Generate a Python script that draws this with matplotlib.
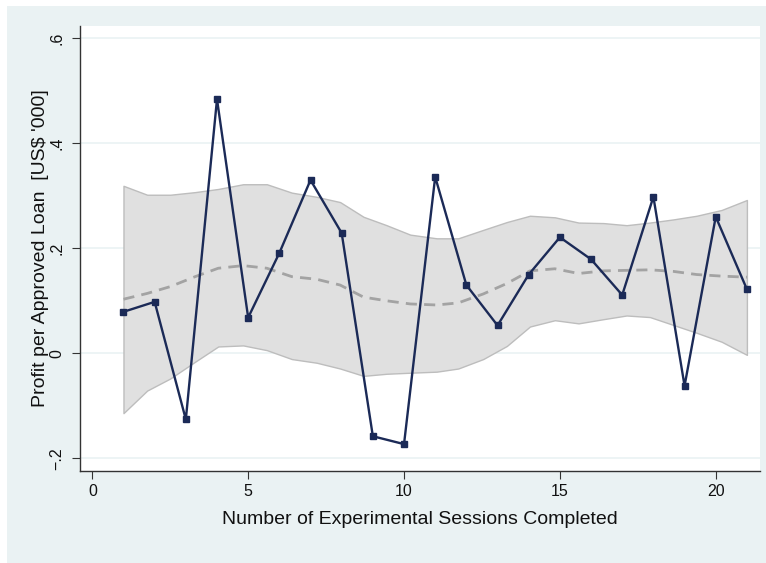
import numpy as np
import matplotlib
matplotlib.use("Agg")
import matplotlib.pyplot as plt
from matplotlib.patches import Rectangle

# observed profit per approved loan, by session
sessions = [1, 2, 3, 4, 5, 6, 7, 8, 9, 10, 11, 12, 13, 14, 15, 16, 17, 18, 19, 20, 21]
profit = [0.079, 0.098, -0.126, 0.484, 0.068, 0.191, 0.330, 0.229, -0.158, -0.173, 0.336,
          0.130, 0.053, 0.150, 0.221, 0.179, 0.111, 0.298, -0.062, 0.260, 0.122]

# smoothed fit with confidence band
fit_x = [1.00, 1.76, 2.50, 3.30, 4.04, 4.84, 5.60, 6.40, 7.20, 7.95, 8.70, 9.44, 10.20, 11.05,
         11.74, 12.54, 13.30, 14.04, 14.84, 15.60, 16.40, 17.14, 17.89, 18.64, 19.39, 20.19, 21.00]
fit_hi = [0.319, 0.302, 0.302, 0.307, 0.313, 0.322, 0.322, 0.306, 0.298, 0.288, 0.260, 0.244,
          0.226, 0.219, 0.219, 0.235, 0.250, 0.262, 0.259, 0.249, 0.248, 0.244, 0.249, 0.255,
          0.262, 0.273, 0.292]
fit_lo = [-0.114, -0.071, -0.048, -0.016, 0.013, 0.015, 0.006, -0.011, -0.018, -0.029, -0.043,
          -0.039, -0.037, -0.035, -0.029, -0.011, 0.014, 0.051, 0.063, 0.057, 0.065, 0.072,
          0.069, 0.054, 0.039, 0.022, -0.003]
fit_mid = [0.103, 0.114, 0.127, 0.146, 0.162, 0.167, 0.162, 0.146, 0.141, 0.130, 0.107, 0.100,
           0.094, 0.092, 0.096, 0.113, 0.133, 0.157, 0.161, 0.152, 0.157, 0.158, 0.159, 0.156,
           0.150, 0.147, 0.145]

xticks = [0, 5, 10, 15, 20]
yticks = [-0.2, 0, 0.2, 0.4, 0.6]
ytick_labels = ["\u2212.2", "0", ".2", ".4", ".6"]

plt.rcParams["font.family"] = ["Liberation Sans", "DejaVu Sans"]

W, H = 766, 563
fig = plt.figure(figsize=(W / 100, H / 100), dpi=100)
fig.patch.set_facecolor("white")
# stata-style outer background
fig.patches.append(Rectangle((7 / W, 0), 1 - 7 / W, 1 - 6 / H, transform=fig.transFigure,
                             facecolor="#eaf2f3", edgecolor="none", zorder=-10))

ax = fig.add_axes([80 / W, (H - 471) / H, (760 - 80) / W, (471 - 26) / H])
ax.set_zorder(1)
ax.set_facecolor("white")

ax.fill_between(fit_x, fit_lo, fit_hi, facecolor="#e0e0e0", edgecolor="#bdbdbd",
                linewidth=1.0, zorder=2)
ax.plot(fit_x, fit_mid, color="#a3a3a3", linewidth=2.0, linestyle=(0, (4, 2.6)), zorder=3)
ax.plot(sessions, profit, color="#1b2a57", linewidth=1.7, marker="s", markersize=5,
        zorder=4)

ax.set_xlim(-0.395, 21.42)
ax.set_ylim(-0.2242, 0.6234)
ax.set_xticks(xticks)
ax.set_yticks(yticks)
ax.set_yticklabels(ytick_labels, rotation=90, va="center")
ax.grid(axis="y", color="#eaf2f3", linewidth=1.2, zorder=1)
ax.set_axisbelow(True)

for s in ["top", "right"]:
    ax.spines[s].set_visible(False)
for s in ["left", "bottom"]:
    ax.spines[s].set_color("#333333")
    ax.spines[s].set_linewidth(1.0)

ax.tick_params(direction="out", length=6, width=0.8, color="#333333", labelsize=11.5,
               labelcolor="#111111")
ax.tick_params(axis="y", pad=5)
ax.tick_params(axis="x", pad=3)

ax.set_xlabel("Number of Experimental Sessions Completed", fontsize=14, color="#111111")
ax.set_ylabel("Profit per Approved Loan  [US$ '000]", fontsize=14, color="#111111")
ax.xaxis.label.set_va("center")
ax.xaxis.set_label_coords(0.5, -0.108)
ax.yaxis.label.set_va("center")
ax.yaxis.set_label_coords(-0.0588, 0.5)

fig.savefig("out.png", dpi=100)
